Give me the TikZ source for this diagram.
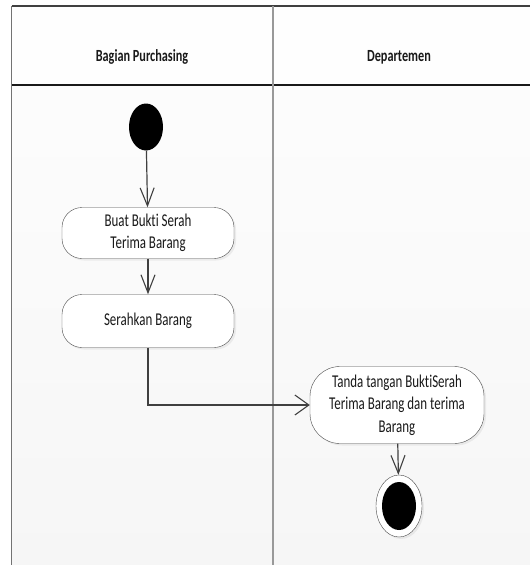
\documentclass[tikz,border=0pt]{standalone}
\usepackage{fontspec}
\setmainfont{Carlito}[FakeStretch=0.72, Ligatures=NoCommon]
\usetikzlibrary{shapes.geometric,arrows.meta,shadows}

\begin{document}
\begin{tikzpicture}[x=1pt, y=-1pt,
    lanetitle/.style={font=\fontsize{17}{20}\selectfont\bfseries, text=black!90},
    action/.style={draw=black!70, fill=white, rounded corners=20pt, align=center,
        font=\fontsize{18}{22.5}\selectfont, text=black!90, inner sep=0pt,
        drop shadow={opacity=0.12, shadow xshift=2pt, shadow yshift=-2pt}},
    dot/.style={ellipse, fill=black, inner sep=0pt},
    flow/.style={draw=black!75, line width=1.2pt,
        -{Straight Barb[length=18pt, width=14pt, line width=1.1pt]}}]
    \def\frameL{11.5}
    \def\frameT{6}
    \def\headB{85}
    \def\laneDiv{273}
    \def\frameR{530}
    \def\frameB{565}
    \useasboundingbox (0,0) rectangle (\frameR,\frameB);
    % swimlane background
    \shade[top color=gray!2, bottom color=gray!7] (\frameL,\headB) rectangle (\frameR,\frameB);
    \fill[gray!1] (\frameL,\frameT) rectangle (\frameR,\headB);
    % frame lines
    \draw[black!75, line width=1.2pt] (\frameL,\frameT) -- (\frameR,\frameT);
    \draw[black!90, line width=1.5pt] (\frameL,\headB) -- (\frameR,\headB);
    \draw[black!55, line width=1.2pt] (\frameL,\frameT) -- (\frameL,\frameB);
    \draw[black!40, line width=1.6pt] (\laneDiv,\frameT) -- (\laneDiv,\frameB);
    % lane titles
    \node[lanetitle] (purchasing) at (142,57) {Bagian Purchasing};
    \node[lanetitle] (departemen) at (399,57) {Departemen};
    % activities
    \node[dot, minimum width=34pt, minimum height=47pt] (start) at (146,127) {};
    \node[action, minimum width=172pt, minimum height=51pt] (buat) at (148,233)
        {Buat Bukti Serah\\Terima Barang};
    \node[action, minimum width=172pt, minimum height=53pt] (serah) at (148,321)
        {Serahkan Barang};
    \node[action, minimum width=174pt, minimum height=77pt, rounded corners=30pt] (tanda) at (397,405)
        {Tanda tangan BuktiSerah\\Terima Barang dan terima\\Barang};
    \node[ellipse, draw=black!70, fill=white, inner sep=0pt, minimum width=46pt, minimum height=62pt,
        drop shadow={opacity=0.12, shadow xshift=2pt, shadow yshift=-2pt}] (end) at (399,506) {};
    \node[dot, minimum width=34pt, minimum height=48pt] (endDot) at (end.center) {};
    % transitions
    \draw[flow] (start) -- (buat);
    \draw[flow] (buat) -- (serah);
    \draw[flow, -{Straight Barb[length=14pt, width=20pt, line width=1.1pt]}] (serah.south) |- (tanda.west);
    \draw[flow] (tanda) -- (end);
\end{tikzpicture}
\end{document}
